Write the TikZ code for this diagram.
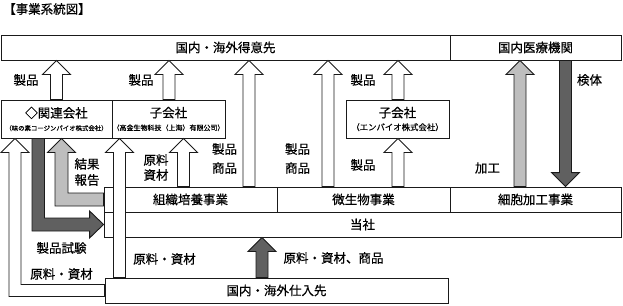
\documentclass[tikz,border=0pt]{standalone}
\usepackage{fontspec}
\setmainfont{Noto Sans CJK JP}[FakeBold=0.5]
\usepackage{xcolor}
\usepackage{tikz}
\usetikzlibrary{calc}
\definecolor{ink}{HTML}{1A1A1A}
\definecolor{gdk}{HTML}{606060}
\definecolor{glt}{HTML}{BEBEBE}

% block arrow, x centre, from node (below) up to node (above)
\newcommand{\blkup}[4]{%
  \draw[blk, fill=#4] let \p1=(#2.north), \p2=(#3.south) in
    ({(#1-6)*1pt},\y1) -- ({(#1-6)*1pt},{\y2-14pt}) -- ({(#1-14)*1pt},{\y2-14pt})
    -- ({#1*1pt},\y2) -- ({(#1+14)*1pt},{\y2-14pt}) -- ({(#1+6)*1pt},{\y2-14pt})
    -- ({(#1+6)*1pt},\y1) -- cycle;}
% block arrow, x centre, from node (above) down to node (below)
\newcommand{\blkdn}[4]{%
  \draw[blk, fill=#4] let \p1=(#2.south), \p2=(#3.north) in
    ({(#1-6)*1pt},\y1) -- ({(#1-6)*1pt},{\y2+14pt}) -- ({(#1-14)*1pt},{\y2+14pt})
    -- ({#1*1pt},\y2) -- ({(#1+14)*1pt},{\y2+14pt}) -- ({(#1+6)*1pt},{\y2+14pt})
    -- ({(#1+6)*1pt},\y1) -- cycle;}

\begin{document}
\begin{tikzpicture}[x=1pt, y=-1pt,
    box/.style={draw=ink, line width=0.9pt, fill=white, inner sep=0pt,
      minimum height=25pt, font=\fontsize{12.5}{15}\selectfont},
    blk/.style={draw=ink, line width=0.9pt, line join=miter},
    lbl/.style={inner sep=0pt, align=center, font=\fontsize{12.5}{16}\selectfont}]
  \useasboundingbox (0,0) rectangle (623,305);

  % Titlu
  \node[anchor=west, inner sep=0pt, font=\fontsize{12.5}{14}\selectfont] (title) at (3,9) {【事業系統図】};

  % Casete
  \node[box, minimum width=449pt] (tokui) at (225.5,47.5) {国内・海外得意先};
  \node[box, minimum width=171pt] (iryo) at (535.5,47.5) {国内医療機関};
  \node[box, minimum width=111pt, minimum height=38pt, align=center] (kanren) at (56.5,119)
    {◇関連会社\\[-2pt]{\fontsize{6.4}{8}\selectfont （味の素コージンバイオ株式会社）}};
  \node[box, minimum width=113pt, minimum height=38pt, align=center] (kokin) at (168.5,119)
    {子会社\\[-2pt]{\fontsize{7}{8}\selectfont （高金生物科技（上海）有限公司）}};
  \node[box, minimum width=103pt, minimum height=38pt, align=center] (enbio) at (397.5,119)
    {子会社\\[-2pt]{\fontsize{8.4}{9}\selectfont （エンバイオ株式会社）}};
  \node[box, minimum width=173pt] (soshiki) at (190.5,199.5) {組織培養事業};
  \node[box, minimum width=173pt] (bisei) at (363.5,199.5) {微生物事業};
  \node[box, minimum width=171pt] (saibou) at (535.5,199.5) {細胞加工事業};
  \node[box, minimum width=517pt] (tosha) at (362.5,224.5) {当社};
  \node[box, minimum width=343pt] (shiire) at (276.5,290.5) {国内・海外仕入先};

  % Sageti albe
  \blkup{56.5}{kanren}{tokui}{white}
  \blkup{169}{kokin}{tokui}{white}
  \blkup{249}{soshiki}{tokui}{white}
  \blkup{328}{bisei}{tokui}{white}
  \blkup{398}{enbio}{tokui}{white}
  \blkup{398}{bisei}{enbio}{white}
  \blkup{183.5}{soshiki}{kokin}{white}
  \blkup{119.5}{shiire}{kokin}{white}

  % Sageti gri
  \blkup{520}{saibou}{iryo}{glt}
  \blkdn{565.5}{iryo}{saibou}{gdk}
  \blkup{262}{shiire}{tosha}{gdk}

  % Sageti cotite
  \draw[blk, fill=white] let \p1=(shiire.west), \p2=(kanren.south) in
    (\x1,{\y1+6pt}) -- (21pt,{\y1+6pt}) -- (21pt,{\y2-14pt}) -- (29pt,{\y2-14pt})
    -- (15pt,\y2) -- (1pt,{\y2-14pt}) -- (9pt,{\y2-14pt}) -- (9pt,{\y1-6pt})
    -- (\x1,{\y1-6pt}) -- cycle;
  \draw[blk, fill=gdk] let \p1=(kanren.south), \p2=(tosha.west) in
    (32pt,\y1) -- (32pt,{\y2-6.5pt}) -- ({\x2-14pt},{\y2-6.5pt}) -- ({\x2-14pt},{\y2-13.5pt})
    -- (\x2,\y2) -- ({\x2-14pt},{\y2+13.5pt}) -- ({\x2-14pt},{\y2+6.5pt})
    -- (44.5pt,{\y2+6.5pt}) -- (44.5pt,\y1) -- cycle;
  \draw[blk, fill=glt] let \p1=(soshiki.west), \p2=(kanren.south) in
    (\x1,{\y1+6.5pt}) -- (68pt,{\y1+6.5pt}) -- (68pt,{\y2-14pt}) -- (75.5pt,{\y2-14pt})
    -- (61.5pt,\y2) -- (47.5pt,{\y2-14pt}) -- (55pt,{\y2-14pt}) -- (55pt,{\y1-6.5pt})
    -- (\x1,{\y1-6.5pt}) -- cycle;

  % Etichete
  \node[lbl] (l1) at (26,80) {製品};
  \node[lbl] (l2) at (141,80) {製品};
  \node[lbl] (l3) at (363,80) {製品};
  \node[lbl] (l4) at (589.5,80) {検体};
  \node[lbl] (l5) at (87,172) {結果\\報告};
  \node[lbl, font=\fontsize{12.5}{15}\selectfont] (l6) at (156,167.5) {原料\\資材};
  \node[lbl, font=\fontsize{12.5}{19}\selectfont] (l7) at (224.5,158.5) {製品\\商品};
  \node[lbl, font=\fontsize{12.5}{19}\selectfont] (l8) at (297.5,158.5) {製品\\商品};
  \node[lbl] (l9) at (363,165) {製品};
  \node[lbl] (l10) at (487.5,168) {加工};
  \node[lbl] (l11) at (61.5,248) {製品試験};
  \node[lbl] (l12) at (61.5,274) {原料・資材};
  \node[lbl] (l13) at (164.5,259) {原料・資材};
  \node[lbl] (l14) at (333.5,258) {原料・資材、商品};
\end{tikzpicture}
\end{document}
